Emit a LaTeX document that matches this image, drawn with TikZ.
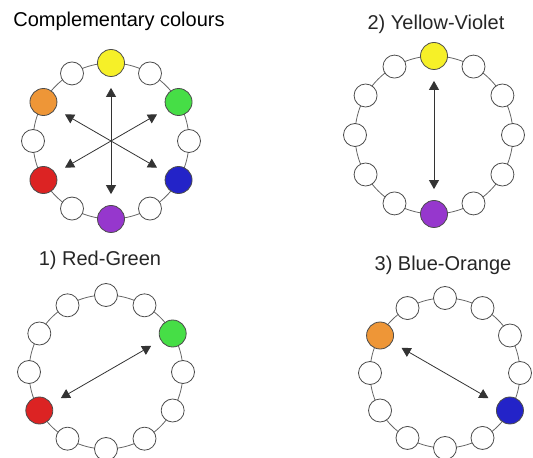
\documentclass[tikz,border=0pt]{standalone}
\usepackage{fontspec}
\setmainfont{Liberation Sans}
\usepackage{xcolor}
\usepackage{tikz}
\usetikzlibrary{arrows.meta,calc}

\definecolor{cyel}{RGB}{246,240,40}
\definecolor{cgrn}{RGB}{70,222,70}
\definecolor{cblu}{RGB}{35,35,200}
\definecolor{cvio}{RGB}{150,55,205}
\definecolor{cred}{RGB}{220,35,35}
\definecolor{corg}{RGB}{238,150,55}

\begin{document}
\begin{tikzpicture}[x=1pt,y=1pt,>={Triangle[length=9pt,width=10pt]},
  dot/.style={circle,draw=black!70,line width=0.8pt,fill=white,minimum size=23pt,inner sep=0pt},
  hue/.style={dot,fill=#1,minimum size=27pt},
  ring/.style={draw=black!60,line width=0.8pt},
  pair/.style={<->,line width=0.8pt,black!80,shorten <=11pt,shorten >=11pt},
  title/.style={font=\fontsize{20}{24}\selectfont,text=black!85}]
  \useasboundingbox (0,0) rectangle (533,458);
  \coordinate (p1) at (111,317); \coordinate (p2) at (434,323);
  \coordinate (p3) at (106,86);  \coordinate (p4) at (445,85);
  % rings of twelve
  \foreach \c/\r in {p1/78,p2/79,p3/77,p4/75}{
    \draw[ring] (\c) circle (\r);
    \foreach \a in {0,30,...,330}
      \node[dot] (\c-\a) at ($(\c)+(\a:\r)$) {};
  }
  % complementary colours
  \node[title,text=black] (t1) at (119,437) {Complementary colours};
  \node[hue=cyel] (y1) at (p1-90) {};  \node[hue=cgrn] (g1) at (p1-30) {};
  \node[hue=cblu] (b1) at (p1-330) {}; \node[hue=cvio] (v1) at (p1-270) {};
  \node[hue=cred] (r1) at (p1-210) {}; \node[hue=corg] (o1) at (p1-150) {};
  \draw[pair] (y1) -- (v1);
  \draw[pair] (o1) -- (b1);
  \draw[pair] (g1) -- (r1);
  % yellow-violet
  \node[title] (t2) at (436,434) {2) Yellow-Violet};
  \node[hue=cyel] (y2) at (p2-90) {}; \node[hue=cvio] (v2) at (p2-270) {};
  \draw[pair] (y2) -- (v2);
  % red-green
  \node[title] (t3) at (100,198) {1) Red-Green};
  \node[hue=cgrn] (g3) at (p3-30) {}; \node[hue=cred] (r3) at (p3-210) {};
  \draw[pair] (g3) -- (r3);
  % blue-orange
  \node[title] (t4) at (443,193) {3) Blue-Orange};
  \node[hue=corg] (o4) at (p4-150) {}; \node[hue=cblu] (b4) at (p4-330) {};
  \draw[pair] (o4) -- (b4);
\end{tikzpicture}
\end{document}
